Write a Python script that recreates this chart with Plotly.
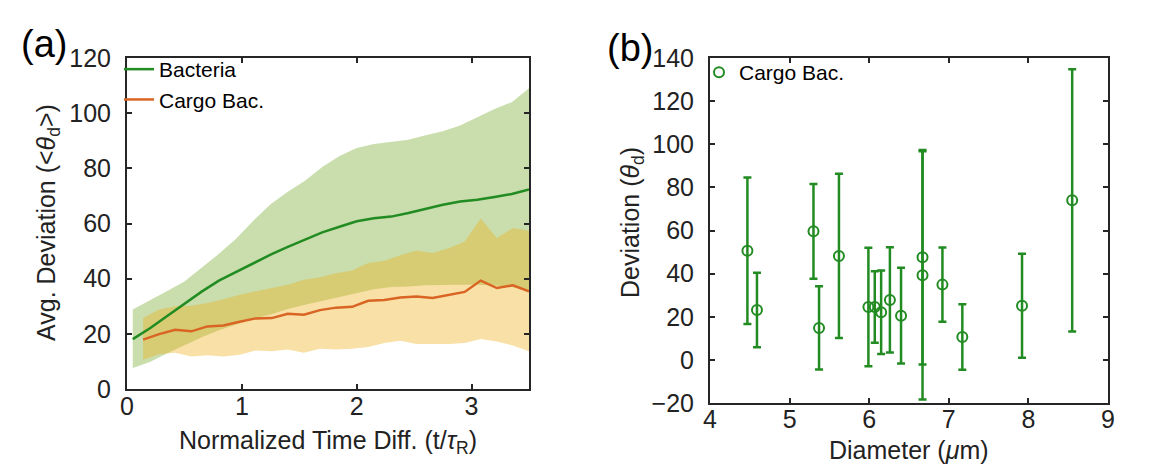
import plotly.graph_objects as go

W, H = 1165, 466

# ---------------- Panel (a) data ----------------
bac_t = [0.05, 0.20, 0.35, 0.50, 0.65, 0.80, 0.95, 1.10, 1.25, 1.40, 1.55, 1.70,
         1.85, 2.00, 2.15, 2.30, 2.45, 2.60, 2.75, 2.90, 3.05, 3.20, 3.35, 3.50]
bac_mean = [18.1, 22.0, 26.5, 31.0, 35.3, 39.3, 42.5, 45.8, 48.7, 51.5, 54.2, 56.8,
            58.8, 60.8, 61.9, 62.5, 63.8, 65.3, 66.8, 68.0, 68.6, 69.6, 70.7, 72.3]
bac_upper = [28.8, 32.0, 35.5, 39.0, 44.0, 49.0, 54.5, 61.0, 67.0, 71.5, 75.5, 80.5,
             84.5, 87.4, 88.8, 89.5, 90.4, 92.0, 93.4, 95.5, 98.5, 101.5, 104.0, 109.0]
bac_lower = [7.6, 9.8, 13.0, 16.0, 18.8, 21.3, 23.5, 25.5, 27.0, 29.0, 30.5, 32.0,
             33.5, 34.8, 36.2, 37.0, 37.2, 37.6, 37.8, 37.8, 37.8, 37.5, 37.0, 35.4]

cargo_t = [0.14, 0.28, 0.42, 0.56, 0.70, 0.84, 0.98, 1.12, 1.26, 1.40, 1.54, 1.68, 1.82,
           1.96, 2.10, 2.24, 2.38, 2.52, 2.66, 2.80, 2.94, 3.08, 3.22, 3.36, 3.50]
cargo_mean = [17.9, 19.9, 21.5, 20.9, 22.7, 23.0, 24.4, 25.6, 25.7, 27.3, 26.9, 28.6, 29.5,
              29.8, 32.0, 32.3, 33.2, 33.5, 33.0, 34.2, 35.2, 39.3, 36.6, 37.6, 35.4]
cargo_upper = [25.7, 28.8, 30.0, 30.2, 31.2, 32.5, 34.2, 35.5, 36.6, 37.8, 39.6, 40.5, 42.0,
               43.0, 45.7, 46.5, 48.5, 50.2, 49.3, 51.0, 53.5, 61.8, 54.7, 58.4, 57.4]
cargo_lower = [10.6, 12.6, 13.1, 11.8, 12.2, 11.8, 12.4, 14.0, 13.7, 14.3, 13.1, 14.6, 14.3,
               14.6, 15.2, 16.7, 17.5, 16.3, 16.3, 16.3, 16.7, 18.1, 17.2, 15.8, 13.7]

# ---------------- Panel (b) data ----------------
diameter = [4.47, 4.59, 5.30, 5.37, 5.62, 5.99, 6.07, 6.15, 6.26, 6.40,
            6.67, 6.67, 6.92, 7.17, 7.92, 8.55]
deviation = [50.6, 23.1, 59.6, 14.8, 48.2, 24.5, 24.5, 22.1, 27.8, 20.5,
             47.6, 39.2, 34.9, 10.6, 25.1, 74.0]
dev_err = [34.0, 17.3, 22.0, 19.3, 38.1, 27.5, 16.6, 19.4, 24.4, 22.2,
           49.7, 57.6, 17.2, 15.2, 24.1, 60.8]

a_xticks = [0, 1, 2, 3]
b_xticks = [4, 5, 6, 7, 8, 9]

GREEN_LINE = "rgb(34,139,34)"
ORANGE_LINE = "rgb(217,100,35)"
GREEN_FILL = "rgba(119,172,48,0.4)"
ORANGE_FILL = "rgba(237,177,32,0.4)"
AX = "#262626"
FONT = "Liberation Sans, Arial, sans-serif"

fig = go.Figure()

fig.add_trace(go.Scatter(x=bac_t + bac_t[::-1], y=bac_upper + bac_lower[::-1],
                         fill="toself", fillcolor=GREEN_FILL, line=dict(width=0),
                         mode="lines", showlegend=False, hoverinfo="skip",
                         xaxis="x", yaxis="y"))
fig.add_trace(go.Scatter(x=cargo_t + cargo_t[::-1], y=cargo_upper + cargo_lower[::-1],
                         fill="toself", fillcolor=ORANGE_FILL, line=dict(width=0),
                         mode="lines", showlegend=False, hoverinfo="skip",
                         xaxis="x", yaxis="y"))
fig.add_trace(go.Scatter(x=bac_t, y=bac_mean, mode="lines", name="Bacteria",
                         line=dict(color=GREEN_LINE, width=2.5),
                         xaxis="x", yaxis="y", legend="legend"))
fig.add_trace(go.Scatter(x=cargo_t, y=cargo_mean, mode="lines", name="Cargo Bac.",
                         line=dict(color=ORANGE_LINE, width=2.5),
                         xaxis="x", yaxis="y", legend="legend"))

fig.add_trace(go.Scatter(x=diameter, y=deviation, mode="markers", name="Cargo Bac.",
                         marker=dict(symbol="circle-open", size=10, color=GREEN_LINE,
                                     line=dict(width=2, color=GREEN_LINE)),
                         error_y=dict(type="data", array=dev_err, visible=True,
                                      color=GREEN_LINE, thickness=2.5, width=4),
                         xaxis="x2", yaxis="y2", legend="legend2"))

def px_x(p):
    return p / W

def px_y(p):
    return 1 - p / H

axis_common = dict(showline=True, linewidth=2, linecolor=AX, mirror="ticks",
                   ticks="inside", ticklen=5, tickwidth=1.5, tickcolor=AX,
                   showgrid=False, zeroline=False, automargin=False,
                   tickfont=dict(family=FONT, size=25, color="#222"))

fig.update_layout(
    width=W, height=H,
    margin=dict(l=0, r=0, t=0, b=0),
    paper_bgcolor="white", plot_bgcolor="white",
    xaxis=dict(domain=[px_x(119), px_x(521)], range=[0, 3.5], tickvals=a_xticks,
               anchor="y", ticklabelstandoff=-6, **axis_common),
    yaxis=dict(domain=[px_y(381), px_y(50)], range=[0, 120], dtick=20,
               anchor="x", ticklabelstandoff=9, **axis_common),
    xaxis2=dict(domain=[px_x(702), px_x(1100)], range=[4, 9], tickvals=b_xticks,
                anchor="y2", ticklabelstandoff=-7, **axis_common),
    yaxis2=dict(domain=[px_y(395), px_y(50)], range=[-20, 140], dtick=20,
                anchor="x2", ticklabelstandoff=9, **axis_common),
    legend=dict(x=px_x(111), y=px_y(41), xanchor="left", yanchor="top",
                bgcolor="rgba(0,0,0,0)", font=dict(family=FONT, size=21, color="black"),
                tracegroupgap=0),
    legend2=dict(x=px_x(691), y=px_y(44), xanchor="left", yanchor="top",
                 bgcolor="rgba(0,0,0,0)", font=dict(family=FONT, size=21, color="black")),
    showlegend=True,
)

ann_font = dict(family=FONT, size=25, color="#222")
annotations = [
    dict(text="(a)", x=px_x(36), y=px_y(36), font=dict(family=FONT, size=38, color="black")),
    dict(text="(b)", x=px_x(622), y=px_y(40), font=dict(family=FONT, size=38, color="black")),
    dict(text="Avg. Deviation (&lt;<i>θ</i><sub>d</sub>&gt;)", x=px_x(40), y=px_y(215),
         textangle=-90, font=ann_font),
    dict(text="Normalized Time Diff. (t/<i>τ</i><sub>R</sub>)", x=px_x(320), y=px_y(434),
         font=ann_font),
    dict(text="Deviation (<i>θ</i><sub>d</sub>)", x=px_x(624), y=px_y(215),
         textangle=-90, font=ann_font),
    dict(text="Diameter (<i>μ</i>m)", x=px_x(901), y=px_y(442), font=ann_font),
]
for a in annotations:
    a.update(xref="paper", yref="paper", xanchor="center", yanchor="middle", showarrow=False)
fig.update_layout(annotations=annotations)

fig.write_html("out.html")
